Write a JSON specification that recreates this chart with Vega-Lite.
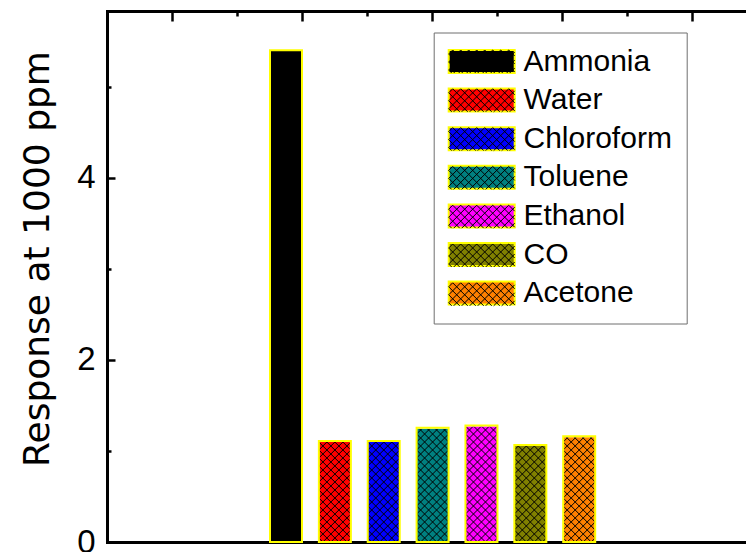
{
  "$schema": "https://vega.github.io/schema/vega-lite/v6.json",
  "width": 639,
  "height": 531,
  "autosize": {"type": "none"},
  "padding": {"left": 107, "top": 11, "right": 0, "bottom": 10},
  "background": "white",
  "config": {"view": {"stroke": null}, "font": "Liberation Sans"},
  "data": {
    "values": [
      {"gas": "Ammonia", "value": 5.40},
      {"gas": "Water", "value": 1.11},
      {"gas": "Chloroform", "value": 1.11},
      {"gas": "Toluene", "value": 1.255},
      {"gas": "Ethanol", "value": 1.28},
      {"gas": "CO", "value": 1.065},
      {"gas": "Acetone", "value": 1.16}
    ]
  },
  "layer": [
    {
      "mark": {"type": "bar", "strokeWidth": 0},
      "encoding": {
        "x": {
          "field": "gas", "type": "nominal", "sort": null,
          "scale": {
            "type": "band",
            "domain": ["Ammonia", "Water", "Chloroform", "Toluene", "Ethanol", "CO", "Acetone"],
            "range": [163, 488.2], "paddingInner": 0.3452, "paddingOuter": 0, "round": false
          },
          "axis": null
        },
        "y": {
          "field": "value", "type": "quantitative",
          "scale": {"domain": [0, 5.83], "nice": false, "zero": false},
          "axis": {
            "orient": "left",
            "values": [0, 2, 4],
            "grid": false,
            "title": "Response at 1000 ppm",
            "titleFont": "DejaVu Sans", "titleFontSize": 36, "titleFontWeight": "normal",
            "titleColor": "black", "titleAngle": 270, "titleAlign": "center",
            "titleBaseline": "alphabetic", "titleX": -58.7, "titleY": 247.5,
            "labelFont": "Liberation Sans", "labelFontSize": 33, "labelColor": "black",
            "labelPadding": 20, "labelFlush": false, "labelBound": false, "labelOverlap": false,
            "domainColor": "black", "domainWidth": 3, "domainCap": "square",
            "tickColor": "black", "tickWidth": 2.5, "tickSize": -8
          }
        },
        "fill": {
          "field": "gas", "type": "nominal",
          "scale": {
            "domain": ["Ammonia", "Water", "Chloroform", "Toluene", "Ethanol", "CO", "Acetone"],
            "range": ["#000000", "#FF0000", "#0000FF", "#008080", "#FF00FF", "#808000", "#FF8000"]
          },
          "legend": {
            "orient": "none", "legendX": 326.7, "legendY": 21.5, "direction": "vertical",
            "title": null, "padding": 14, "rowPadding": 6.6,
            "symbolType": "M0,-23H132V23H0Z", "symbolSize": 1, "symbolOffset": -14,
            "symbolStrokeColor": "#FFFF00", "symbolStrokeWidth": 2, "symbolOpacity": 1,
            "labelFont": "Liberation Sans", "labelFontSize": 30, "labelColor": "black",
            "labelOffset": 59.8, "labelLimit": 400,
            "strokeColor": "#6e6e6e", "fillColor": "white"
          }
        }
      }
    },
    {
      "mark": {
        "type": "point",
        "shape": "M12,0L16,-4M4,0L16,-12M-4,0L16,-20M-12,0L16,-28M-16,-4L16,-36M-16,-12L16,-44M-16,-20L16,-52M-16,-28L16,-60M-16,-36L16,-68M-16,-44L16,-76M-16,-52L16,-84M-16,-60L16,-92M-16,-68L16,-100M-16,-76L16,-108M-16,-84L16,-116M-16,-92L16,-124M-16,-100L12,-128M-16,-108L4,-128M-16,-116L-4,-128M-16,-124L-12,-128M-16,-4L-12,0M-16,-12L-4,0M-16,-20L4,0M-16,-28L12,0M-16,-36L16,-4M-16,-44L16,-12M-16,-52L16,-20M-16,-60L16,-28M-16,-68L16,-36M-16,-76L16,-44M-16,-84L16,-52M-16,-92L16,-60M-16,-100L16,-68M-16,-108L16,-76M-16,-116L16,-84M-16,-124L16,-92M-12,-128L16,-100M-4,-128L16,-108M4,-128L16,-116M12,-128L16,-124",
        "size": 4, "filled": false, "strokeWidth": 1, "opacity": 1
      },
      "encoding": {
        "x": {
          "field": "gas", "type": "nominal", "sort": null,
          "scale": {
            "type": "band",
            "domain": ["Ammonia", "Water", "Chloroform", "Toluene", "Ethanol", "CO", "Acetone"],
            "range": [163, 488.2], "paddingInner": 0.3452, "paddingOuter": 0, "round": false
          },
          "axis": null
        },
        "y": {"datum": 0, "type": "quantitative", "scale": {"domain": [0, 5.83], "nice": false, "zero": false}, "axis": null},
        "stroke": {
          "field": "gas", "type": "nominal", "sort": null,
          "scale": {"range": ["#000000"]},
          "legend": {
            "orient": "none", "legendX": 326.7, "legendY": 21.5, "direction": "vertical",
            "title": null, "padding": 14, "rowPadding": 8.8,
            "symbolType": "M60,-11.5L66,-5.5M52,-11.5L66,2.5M44,-11.5L66,10.5M36,-11.5L59,11.5M28,-11.5L51,11.5M20,-11.5L43,11.5M12,-11.5L35,11.5M4,-11.5L27,11.5M0,-7.5L19,11.5M0,0.5L11,11.5M0,8.5L3,11.5M0,-7.5L4,-11.5M0,0.5L12,-11.5M0,8.5L20,-11.5M5,11.5L28,-11.5M13,11.5L36,-11.5M21,11.5L44,-11.5M29,11.5L52,-11.5M37,11.5L60,-11.5M45,11.5L66,-9.5M53,11.5L66,-1.5M61,11.5L66,6.5",
            "symbolSize": 4, "symbolOffset": -14, "symbolStrokeWidth": 1,
            "symbolFillColor": "transparent", "symbolOpacity": 1,
            "labelFont": "Liberation Sans", "labelFontSize": 30, "labelColor": "transparent",
            "labelOffset": 59.8, "labelLimit": 400,
            "strokeColor": "transparent"
          }
        }
      }
    },
    {
      "transform": [{"filter": "datum.gas !== 'Ammonia'"}],
      "mark": {"type": "bar", "fill": "white", "stroke": "white", "strokeWidth": 2},
      "encoding": {
        "x": {
          "field": "gas", "type": "nominal", "sort": null,
          "scale": {
            "type": "band",
            "domain": ["Ammonia", "Water", "Chloroform", "Toluene", "Ethanol", "CO", "Acetone"],
            "range": [163, 488.2], "paddingInner": 0.3452, "paddingOuter": 0, "round": false
          },
          "axis": null
        },
        "y": {"field": "value", "type": "quantitative", "scale": {"domain": [0, 5.83], "nice": false, "zero": false}, "axis": null},
        "y2": {"datum": 1.6}
      }
    },
    {
      "mark": {"type": "bar", "fill": "transparent", "stroke": "#FFFF00", "strokeWidth": 2},
      "encoding": {
        "x": {
          "field": "gas", "type": "nominal", "sort": null,
          "scale": {
            "type": "band",
            "domain": ["Ammonia", "Water", "Chloroform", "Toluene", "Ethanol", "CO", "Acetone"],
            "range": [163, 488.2], "paddingInner": 0.3452, "paddingOuter": 0, "round": false
          },
          "axis": null
        },
        "y": {"field": "value", "type": "quantitative", "scale": {"domain": [0, 5.83], "nice": false, "zero": false}, "axis": null}
      }
    },
    {
      "mark": {"type": "rule", "opacity": 0},
      "encoding": {
        "x": {
          "datum": 0, "type": "quantitative",
          "scale": {"domain": [-0.5, 4.415], "nice": false, "zero": false},
          "axis": {
            "orient": "top", "values": [0, 0.5, 1, 1.5, 2, 2.5, 3, 3.5, 4],
            "labels": false, "title": null, "grid": false,
            "domainColor": "black", "domainWidth": 3, "domainCap": "square",
            "tickColor": "black", "tickWidth": 2.5,
            "tickSize": {"condition": {"test": "datum.value % 1 === 0", "value": -10}, "value": -5}
          }
        }
      }
    },
    {
      "mark": {"type": "rule", "opacity": 0},
      "encoding": {
        "x": {
          "datum": 0, "type": "quantitative",
          "scale": {"domain": [-0.5, 4.415], "nice": false, "zero": false},
          "axis": {
            "orient": "bottom", "values": [0, 0.5, 1, 1.5, 2, 2.5, 3, 3.5, 4],
            "labels": false, "ticks": false, "title": null, "grid": false,
            "domainColor": "black", "domainWidth": 3, "domainCap": "square"
          }
        }
      }
    },
    {
      "mark": {"type": "rule", "opacity": 0},
      "encoding": {
        "y": {
          "datum": 0, "type": "quantitative",
          "scale": {"domain": [0, 5.83], "nice": false, "zero": false},
          "axis": {
            "orient": "left", "values": [1, 3, 5],
            "labels": false, "title": null, "grid": false, "domain": false,
            "tickColor": "black", "tickWidth": 2.5, "tickSize": -4
          }
        }
      }
    }
  ],
  "resolve": {
    "scale": {"x": "independent", "y": "independent"},
    "axis": {"x": "independent", "y": "independent"}
  }
}
